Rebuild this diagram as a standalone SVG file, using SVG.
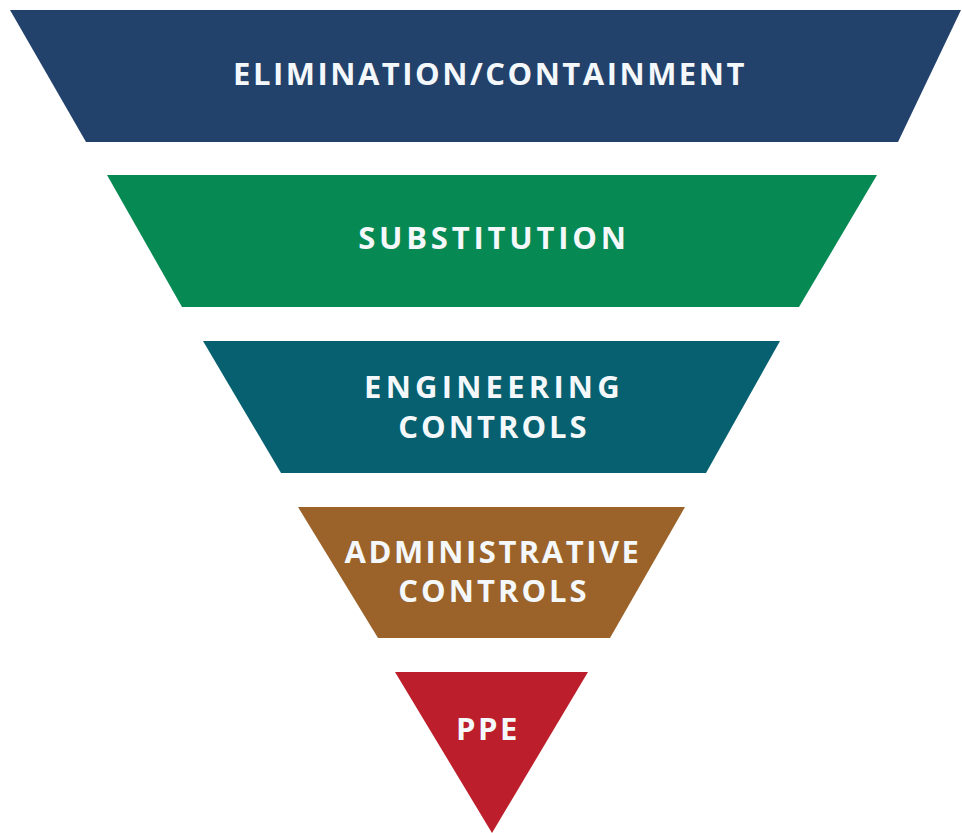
<svg xmlns="http://www.w3.org/2000/svg" width="962" height="833" viewBox="0 0 962 833">
<style>
.lbl{font-family:"Open Sans","Noto Sans","Liberation Sans",sans-serif;font-weight:700;font-size:31px;fill:#f4f8fb;letter-spacing:2.5px;text-anchor:middle}
</style>
<rect width="962" height="833" fill="#ffffff"/>
<g id="elimination">
<polygon points="10,10 961,10 898,142 86,142" fill="#22426c"/>
<text class="lbl" x="490" y="85">ELIMINATION/CONTAINMENT</text>
</g>
<g id="substitution">
<polygon points="107,175 877,175 799,307 182,307" fill="#068953"/>
<text class="lbl" x="494" y="249" style="letter-spacing:3.8px">SUBSTITUTION</text>
</g>
<g id="engineering">
<polygon points="203,341 780,341 706,473 281,473" fill="#06606f"/>
<text class="lbl" x="494" y="398" style="letter-spacing:4.2px">ENGINEERING</text>
<text class="lbl" x="494" y="438" style="letter-spacing:3px">CONTROLS</text>
</g>
<g id="administrative">
<polygon points="298,507 685,507 610,638 378,638" fill="#9b6329"/>
<text class="lbl" x="493" y="563">ADMINISTRATIVE</text>
<text class="lbl" x="494" y="602" style="letter-spacing:3px">CONTROLS</text>
</g>
<g id="ppe">
<polygon points="395,672 588,672 492,833" fill="#bc1f2b"/>
<text class="lbl" x="488" y="740">PPE</text>
</g>
<g id="connectors"/>
</svg>
